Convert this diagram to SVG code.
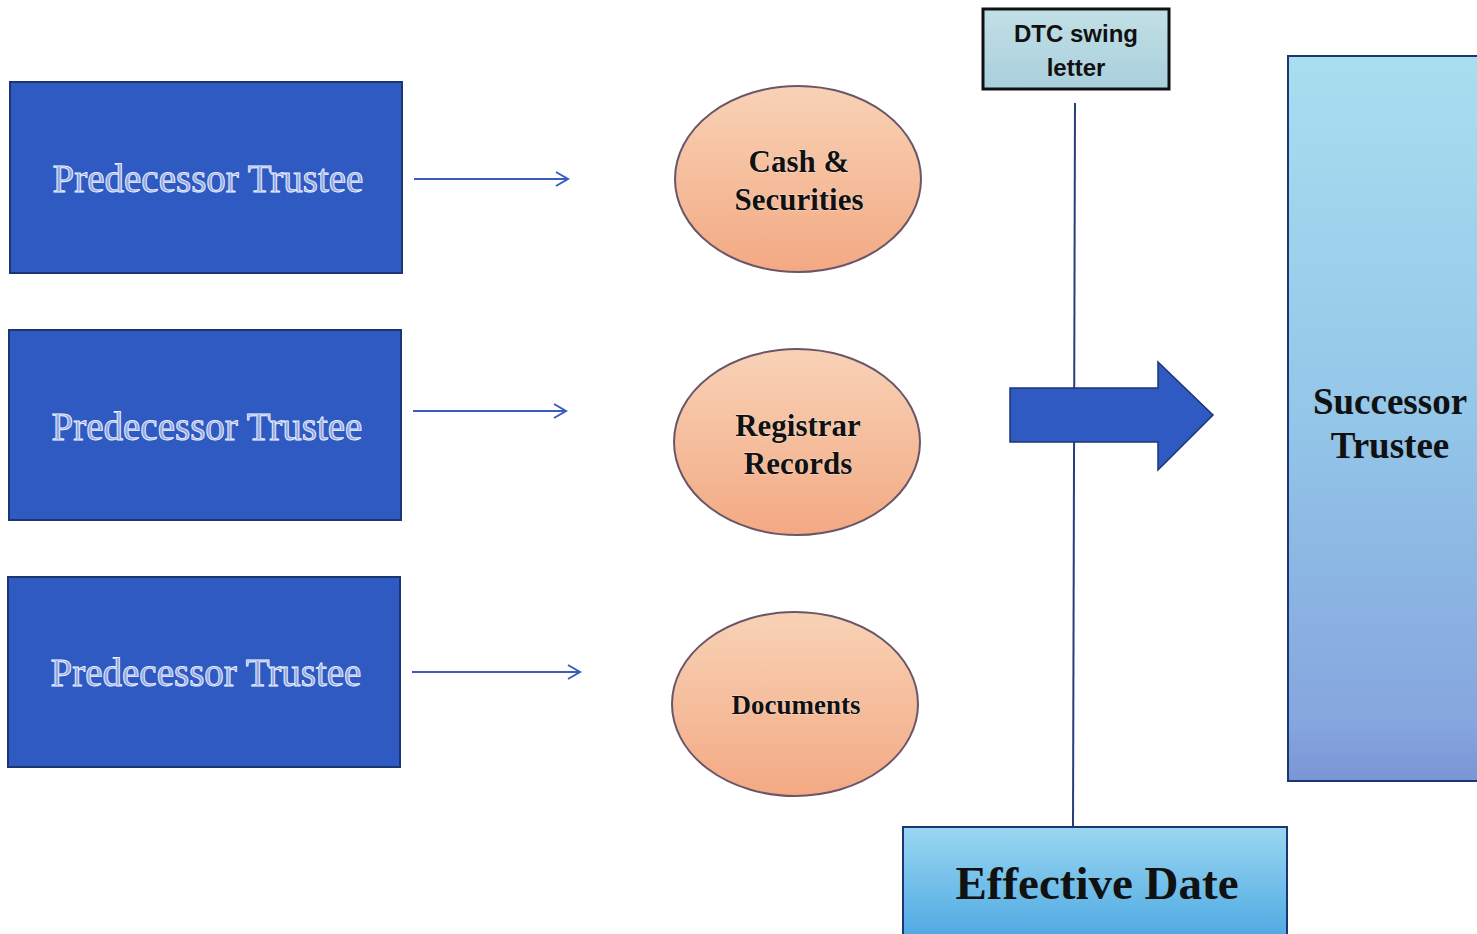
<svg xmlns="http://www.w3.org/2000/svg" width="1477" height="934" viewBox="0 0 1477 934">
<defs>
<style>
.pred{fill:#2f5ac2;stroke:#1c3575;stroke-width:2}
.predt{font-family:"Liberation Serif",serif;font-size:39px;fill:#8fa5e0;stroke:#eef2ff;stroke-width:0.9;text-anchor:middle}
.conn{stroke:#3a5bbf;stroke-width:2;fill:none}
.ell{fill:url(#peach);stroke:#6b5668;stroke-width:2}
.et{font-family:"Liberation Serif",serif;font-weight:bold;fill:#111;text-anchor:middle;stroke:#fff6ee;stroke-width:0.6;paint-order:stroke}
.dtc{font-family:"Liberation Sans",sans-serif;font-weight:bold;font-size:24px;fill:#111;text-anchor:middle}
.big{font-family:"Liberation Serif",serif;font-weight:bold;fill:#111;text-anchor:middle}
</style>
<linearGradient id="peach" x1="0" y1="0" x2="0" y2="1">
<stop offset="0" stop-color="#f8d2b6"/>
<stop offset="1" stop-color="#f3a983"/>
</linearGradient>
<linearGradient id="dtcg" x1="0" y1="0" x2="0" y2="1">
<stop offset="0" stop-color="#c2dfe6"/>
<stop offset="1" stop-color="#a9d0dc"/>
</linearGradient>
<linearGradient id="succ" x1="0" y1="0" x2="0" y2="1">
<stop offset="0" stop-color="#a9def0"/>
<stop offset="0.5" stop-color="#93c6e8"/>
<stop offset="0.92" stop-color="#85a6de"/>
<stop offset="1" stop-color="#7a95d6"/>
</linearGradient>
<linearGradient id="eff" x1="0" y1="0" x2="0" y2="1">
<stop offset="0" stop-color="#9ad6f1"/>
<stop offset="1" stop-color="#4faae3"/>
</linearGradient>
<marker id="open" markerWidth="16" markerHeight="16" refX="14" refY="8" orient="auto" markerUnits="userSpaceOnUse">
<path d="M2,1 L14,8 L2,15" fill="none" stroke="#3a5bbf" stroke-width="2"/>
</marker>
</defs>
<rect width="1477" height="934" fill="#ffffff"/>

<g id="connectors">
<line class="conn" x1="414" y1="179" x2="568" y2="179" marker-end="url(#open)"/>
<line class="conn" x1="413" y1="411" x2="566" y2="411" marker-end="url(#open)"/>
<line class="conn" x1="412" y1="672" x2="580" y2="672" marker-end="url(#open)"/>
<line x1="1075" y1="103" x2="1073" y2="827" stroke="#2a3f7a" stroke-width="2"/>
</g>

<g id="pred1">
<rect class="pred" x="10" y="82" width="392" height="191"/>
<text class="predt" x="208" y="192">Predecessor Trustee</text>
</g>
<g id="pred2">
<rect class="pred" x="9" y="330" width="392" height="190"/>
<text class="predt" x="207" y="440">Predecessor Trustee</text>
</g>
<g id="pred3">
<rect class="pred" x="8" y="577" width="392" height="190"/>
<text class="predt" x="206" y="686">Predecessor Trustee</text>
</g>

<g id="cash">
<ellipse class="ell" cx="798" cy="179" rx="123" ry="93"/>
<text class="et" x="799" y="172" font-size="31">Cash &amp;</text>
<text class="et" x="799" y="210" font-size="31">Securities</text>
</g>
<g id="registrar">
<ellipse class="ell" cx="797" cy="442" rx="123" ry="93"/>
<text class="et" x="798" y="436" font-size="31">Registrar</text>
<text class="et" x="798" y="474" font-size="31">Records</text>
</g>
<g id="documents">
<ellipse class="ell" cx="795" cy="704" rx="123" ry="92"/>
<text class="et" x="796" y="714" font-size="27">Documents</text>
</g>

<g id="dtc">
<rect x="983" y="9" width="186" height="80" fill="url(#dtcg)" stroke="#111" stroke-width="3"/>
<text class="dtc" x="1076" y="42">DTC swing</text>
<text class="dtc" x="1076" y="76">letter</text>
</g>

<g id="bigarrow">
<path d="M1010,388 L1158,388 L1158,362 L1213,415 L1158,470 L1158,442 L1010,442 Z" fill="#2f5ac2" stroke="#1c3575" stroke-width="1.5"/>
</g>

<g id="successor">
<rect x="1288" y="56" width="195" height="725" fill="url(#succ)" stroke="#1c3575" stroke-width="2"/>
<text class="big" x="1390" y="414" font-size="37">Successor</text>
<text class="big" x="1390" y="458" font-size="37">Trustee</text>
</g>

<g id="effective">
<rect x="903" y="827" width="384" height="110" fill="url(#eff)" stroke="#1c3575" stroke-width="2"/>
<text class="big" x="1097" y="899" font-size="47">Effective Date</text>
</g>
</svg>
